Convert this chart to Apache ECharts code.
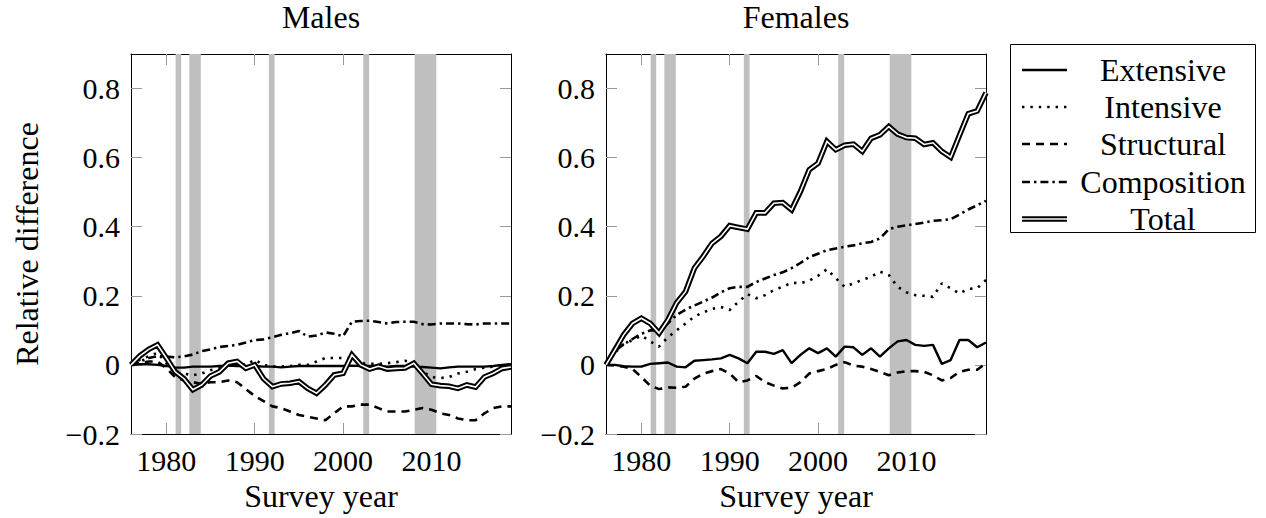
<!DOCTYPE html>
<html><head><meta charset="utf-8">
<script src="https://cdn.jsdelivr.net/npm/echarts@6/dist/echarts.min.js"></script>
<style>html,body{margin:0;padding:0;background:#fff}#c{width:1266px;height:518px}</style>
</head><body><div id="c"></div>
<script>
const years = [1976,1977,1978,1979,1980,1981,1982,1983,1984,1985,1986,1987,1988,1989,1990,1991,1992,1993,1994,1995,1996,1997,1998,1999,2000,2001,2002,2003,2004,2005,2006,2007,2008,2009,2010,2011,2012,2013,2014,2015,2016,2017,2018,2019];

const maleExtensive = [0,0.002,0.002,0,-0.003,-0.008,-0.008,-0.005,-0.005,-0.005,-0.003,-0.002,-0.003,-0.003,-0.003,-0.005,-0.005,-0.007,-0.005,-0.003,-0.003,-0.003,-0.003,-0.003,-0.003,-0.002,-0.003,-0.003,-0.003,-0.005,-0.003,-0.003,-0.005,-0.006,-0.008,-0.01,-0.007,-0.005,-0.005,-0.005,-0.005,-0.003,0,0.002];
const maleIntensive = [0,0.015,0.025,0.035,0.005,-0.025,-0.025,-0.03,-0.025,-0.015,-0.01,0,0.005,0,0.015,0,-0.005,-0.005,-0.003,0,0,0.01,0.02,0.02,0.02,0.02,0.005,0.003,0.003,0.005,0.008,0.012,0.005,-0.02,-0.035,-0.038,-0.035,-0.025,-0.02,-0.012,-0.008,-0.005,0,0];
const maleStructural = [0,0.005,0.01,0.01,-0.01,-0.035,-0.045,-0.05,-0.055,-0.05,-0.05,-0.045,-0.05,-0.07,-0.09,-0.105,-0.12,-0.125,-0.135,-0.145,-0.15,-0.155,-0.16,-0.14,-0.12,-0.12,-0.115,-0.115,-0.125,-0.135,-0.135,-0.135,-0.13,-0.125,-0.13,-0.14,-0.145,-0.155,-0.16,-0.16,-0.14,-0.125,-0.12,-0.12];
const maleComposition = [0,0.01,0.02,0.025,0.024,0.022,0.025,0.03,0.04,0.045,0.052,0.055,0.058,0.065,0.072,0.074,0.08,0.087,0.092,0.098,0.082,0.085,0.094,0.09,0.083,0.125,0.127,0.128,0.124,0.12,0.124,0.125,0.125,0.118,0.117,0.12,0.12,0.12,0.118,0.117,0.12,0.12,0.12,0.12];
const maleTotal = [0,0.026,0.045,0.058,0.02,-0.02,-0.04,-0.072,-0.058,-0.032,-0.02,0.005,0.01,-0.01,0,-0.04,-0.063,-0.055,-0.053,-0.048,-0.068,-0.082,-0.058,-0.029,-0.024,0.029,0,-0.012,-0.004,-0.012,-0.01,-0.009,0.005,-0.025,-0.056,-0.06,-0.062,-0.068,-0.058,-0.064,-0.035,-0.024,-0.01,-0.006];

const femaleExtensive = [0,0,-0.004,-0.005,-0.005,0.003,0.005,0.007,-0.005,-0.007,0.012,0.014,0.016,0.019,0.029,0.019,0.005,0.038,0.038,0.032,0.043,0.005,0.029,0.048,0.034,0.048,0.024,0.053,0.051,0.029,0.048,0.024,0.048,0.068,0.072,0.058,0.055,0.058,0.003,0.014,0.072,0.072,0.051,0.065];
const femaleIntensive = [0,0.035,0.06,0.072,0.085,0.068,0.053,0.08,0.1,0.12,0.14,0.152,0.162,0.168,0.159,0.183,0.205,0.193,0.202,0.217,0.226,0.238,0.236,0.244,0.258,0.277,0.251,0.226,0.236,0.246,0.255,0.27,0.26,0.226,0.21,0.202,0.2,0.197,0.236,0.222,0.207,0.22,0.222,0.246];
const femaleStructural = [0,-0.002,-0.005,-0.012,-0.035,-0.06,-0.07,-0.065,-0.066,-0.063,-0.04,-0.025,-0.018,-0.012,-0.025,-0.05,-0.045,-0.032,-0.05,-0.06,-0.068,-0.066,-0.05,-0.025,-0.018,-0.012,0,0.008,-0.002,-0.005,-0.012,-0.02,-0.03,-0.022,-0.018,-0.018,-0.02,-0.03,-0.045,-0.038,-0.02,-0.014,-0.014,0.005];
const femaleComposition = [0,0.04,0.06,0.075,0.09,0.1,0.1,0.12,0.145,0.16,0.172,0.183,0.195,0.21,0.222,0.226,0.226,0.24,0.25,0.26,0.268,0.28,0.295,0.312,0.322,0.332,0.337,0.342,0.346,0.352,0.356,0.366,0.393,0.4,0.404,0.408,0.412,0.417,0.419,0.422,0.435,0.45,0.462,0.475];
const femaleTotal = [0,0.043,0.087,0.12,0.135,0.12,0.092,0.13,0.18,0.212,0.28,0.314,0.352,0.372,0.403,0.398,0.393,0.44,0.44,0.468,0.47,0.449,0.502,0.565,0.584,0.647,0.623,0.636,0.639,0.618,0.656,0.666,0.69,0.668,0.658,0.656,0.638,0.643,0.618,0.601,0.665,0.727,0.735,0.788];

const recessionStart = [1981.05, 1982.6, 1991.6, 2002.28, 2008.1];
const recessionEnd = [1981.68, 1983.9, 1992.25, 2002.95, 2010.55];

const xTicks = [1980, 1990, 2000, 2010];
const yTicks = [-0.2, 0, 0.2, 0.4, 0.6, 0.8];
const seriesNames = ['Extensive', 'Intensive', 'Structural', 'Composition', 'Total'];
const panelTitles = ['Males', 'Females'];
const xAxisTitle = 'Survey year';
const yAxisTitle = 'Relative difference';

const FONT = 'Liberation Serif';
const FS = 30;
const FSW = 32;

const styles = {
  Extensive: {type: 'solid', width: 2.4},
  Intensive: {type: [2.4, 6], width: 2.6},
  Structural: {type: [8, 6], width: 2.6},
  Composition: {type: [8, 4, 2.4, 4], width: 2.6}
};

function pairs(vals) { return years.map((y, i) => [y, vals[i]]); }
function yFmt(v) {
  if (Math.abs(v) < 1e-9) return '0';
  return v < 0 ? '\u2212' + (-v).toFixed(1) : v.toFixed(1);
}
function xFmt(v) { return String(Math.round(v)); }

const panels = [
  [maleExtensive, maleIntensive, maleStructural, maleComposition, maleTotal],
  [femaleExtensive, femaleIntensive, femaleStructural, femaleComposition, femaleTotal]
];

const gridLefts = [131, 606];
const grids = gridLefts.map(l => ({left: l, top: 54, width: 380, height: 380, show: false,
  containLabel: false, outerBoundsMode: 'none'}));

const xAxes = [], yAxes = [], series = [];
const tickStyle = {color: '#999', width: 1};
const lineAx = {show: true, onZero: false, lineStyle: {color: '#000', width: 1}};
const nameStyle = {fontFamily: FONT, fontSize: FSW, color: '#000', fontWeight: 'normal'};

panels.forEach((p, g) => {
  xAxes.push({
    gridIndex: g, type: 'value', min: 1976, max: 2019, position: 'bottom',
    axisLine: lineAx,
    axisTick: {inside: true, length: 11, lineStyle: tickStyle, customValues: xTicks},
    axisLabel: {customValues: xTicks, formatter: xFmt, fontFamily: FONT, fontSize: FS, color: '#000', margin: 11},
    splitLine: {show: false},
    name: xAxisTitle, nameLocation: 'middle', nameGap: 44, nameTextStyle: nameStyle
  });
  xAxes.push({
    gridIndex: g, type: 'value', min: 1976, max: 2019, position: 'top',
    axisLine: lineAx,
    axisTick: {inside: true, length: 11, lineStyle: tickStyle, customValues: xTicks},
    axisLabel: {show: false},
    splitLine: {show: false},
    name: panelTitles[g], nameLocation: 'middle', nameGap: 21, nameTextStyle: nameStyle
  });
  yAxes.push({
    gridIndex: g, type: 'value', min: -0.2, max: 0.9, position: 'left',
    axisLine: lineAx,
    axisTick: {inside: true, length: 11, lineStyle: tickStyle, customValues: yTicks},
    axisLabel: {customValues: yTicks, formatter: yFmt, fontFamily: FONT, fontSize: FS, color: '#000', margin: 11},
    splitLine: {show: false},
    name: g === 0 ? yAxisTitle : '', nameLocation: 'middle', nameGap: 88, nameTextStyle: nameStyle
  });
  yAxes.push({
    gridIndex: g, type: 'value', min: -0.2, max: 0.9, position: 'right',
    axisLine: lineAx,
    axisTick: {inside: true, length: 11, lineStyle: tickStyle, customValues: yTicks},
    axisLabel: {show: false},
    splitLine: {show: false}
  });
  const xi = g * 2, yi = g * 2;
  series.push({
    type: 'line', xAxisIndex: xi, yAxisIndex: yi, data: [], silent: true, z: 1,
    markArea: {silent: true, itemStyle: {color: '#bfbfbf'},
      data: recessionStart.map((s, i) => [{xAxis: s}, {xAxis: recessionEnd[i]}])}
  });
  ['Extensive', 'Intensive', 'Structural', 'Composition'].forEach((nm, k) => {
    series.push({
      name: nm, type: 'line', xAxisIndex: xi, yAxisIndex: yi, data: pairs(p[k]),
      symbol: 'none', z: 3,
      lineStyle: {color: '#000', width: styles[nm].width, type: styles[nm].type, cap: 'butt'}
    });
  });
  series.push({
    name: 'Total', type: 'line', xAxisIndex: xi, yAxisIndex: yi, data: pairs(p[4]),
    symbol: 'none', z: 4, lineStyle: {color: '#000', width: 5.6, join: 'miter'}
  });
  series.push({
    name: 'Total ', type: 'line', xAxisIndex: xi, yAxisIndex: yi, data: pairs(p[4]),
    symbol: 'none', z: 5, lineStyle: {color: '#fff', width: 1.6, join: 'miter'}
  });
});

const LX = 1010, LY = 44, LW = 245, LH = 188;
const rowY = [70, 107, 144, 182, 219];
const graphic = [{type: 'rect', shape: {x: LX + 0.5, y: LY + 0.5, width: LW, height: LH},
  style: {fill: '#fff', stroke: '#000', lineWidth: 1}}];
seriesNames.forEach((nm, i) => {
  const y = rowY[i];
  if (nm === 'Total') {
    graphic.push({type: 'line', shape: {x1: 1022, y1: y, x2: 1067, y2: y}, style: {stroke: '#000', lineWidth: 5.6}});
    graphic.push({type: 'line', shape: {x1: 1022, y1: y, x2: 1067, y2: y}, style: {stroke: '#fff', lineWidth: 1.6}});
  } else {
    const st = styles[nm];
    graphic.push({type: 'line', shape: {x1: 1022, y1: y, x2: 1067, y2: y},
      style: {stroke: '#000', lineWidth: st.width, lineDash: st.type === 'solid' ? null : st.type}});
  }
  graphic.push({type: 'text', x: 1163, y: y,
    style: {text: nm, fontFamily: FONT, fontSize: FSW, fill: '#000', align: 'center', verticalAlign: 'middle'}});
});

const chart = echarts.init(document.getElementById('c'), null, {renderer: 'svg'});
chart.setOption({
  animation: false,
  textStyle: {fontFamily: FONT},
  grid: grids,
  xAxis: xAxes,
  yAxis: yAxes,
  series: series,
  graphic: graphic
});
</script>
</body></html>
